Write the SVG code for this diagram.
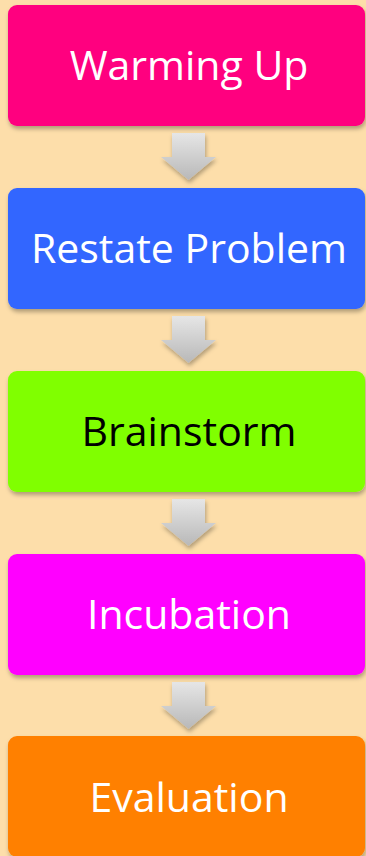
<svg xmlns="http://www.w3.org/2000/svg" width="366" height="856" viewBox="0 0 366 856">
  <defs>
    <linearGradient id="arrowFill" x1="0" y1="0" x2="0" y2="1">
      <stop offset="0" stop-color="#e6e6e6"/>
      <stop offset="1" stop-color="#b8b8b8"/>
    </linearGradient>
    <filter id="shadow" x="-10%" y="-10%" width="120%" height="130%">
      <feDropShadow dx="1" dy="3" stdDeviation="2" flood-color="#000" flood-opacity="0.3"/>
    </filter>
    <path id="downArrow" d="M0 0 H33 V24 H44 L16.5 47 L-11 24 H0 Z"/>
  </defs>
  <style>
    .box { filter: url(#shadow); }
    .label { font-family: "Open Sans", "Liberation Sans", sans-serif; font-size: 41px; text-anchor: middle; dominant-baseline: central; }
    .arrow { fill: url(#arrowFill); filter: url(#shadow); }
  </style>
  <rect width="366" height="856" fill="#fddeaa"/>

  <g id="connectors">
    <use href="#downArrow" class="arrow" x="172" y="133"/>
    <use href="#downArrow" class="arrow" x="172" y="316"/>
    <use href="#downArrow" class="arrow" x="172" y="499"/>
    <use href="#downArrow" class="arrow" x="172" y="682"/>
  </g>

  <g id="warming-up">
    <rect class="box" x="8" y="5" width="357" height="121" rx="9" fill="#ff007f"/>
    <text class="label" x="189" y="64" fill="#ffffff">Warming Up</text>
  </g>
  <g id="restate-problem">
    <rect class="box" x="8" y="188" width="357" height="121" rx="9" fill="#3366ff"/>
    <text class="label" x="189" y="247" fill="#ffffff">Restate Problem</text>
  </g>
  <g id="brainstorm">
    <rect class="box" x="8" y="371" width="357" height="121" rx="9" fill="#80ff00"/>
    <text class="label" x="189" y="430" fill="#000000">Brainstorm</text>
  </g>
  <g id="incubation">
    <rect class="box" x="8" y="554" width="357" height="121" rx="9" fill="#ff00ff"/>
    <text class="label" x="189" y="613" fill="#ffffff">Incubation</text>
  </g>
  <g id="evaluation">
    <rect class="box" x="8" y="736" width="357" height="121" rx="9" fill="#ff8000"/>
    <text class="label" x="189" y="796" fill="#ffffff">Evaluation</text>
  </g>
</svg>
